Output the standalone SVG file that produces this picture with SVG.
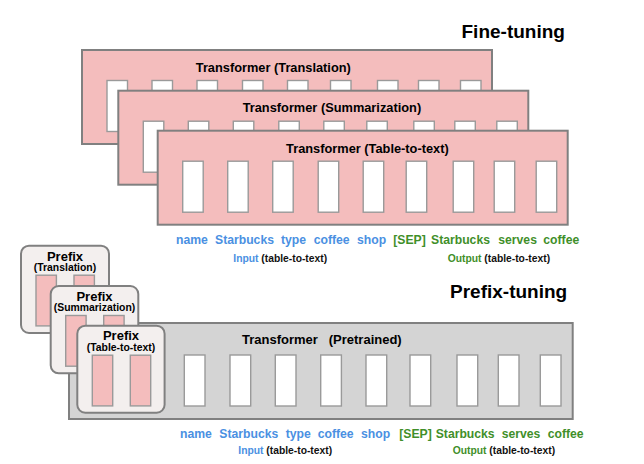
<svg xmlns="http://www.w3.org/2000/svg" width="644" height="464" viewBox="0 0 644 464">
<style>
text { font-family: "Liberation Sans", Arial, sans-serif; font-weight: bold; }
.box { fill: #f4bdbd; stroke: #808080; stroke-width: 2; }
.gbox { fill: #d4d4d4; stroke: #808080; stroke-width: 2; }
.pbox { fill: #f3efee; stroke: #808080; stroke-width: 2; }
.tok { fill: #ffffff; stroke: #9a9a9a; stroke-width: 1.4; }
.ptok { fill: #f4bdbd; stroke: #9a9a9a; stroke-width: 1.4; }
.ttl { font-size: 12.8px; fill: #000; text-anchor: middle; }
.head { font-size: 19px; fill: #000; }
.w { font-size: 12.2px; }
.in { fill: #4a90e2; }
.out { fill: #3f8f2a; }
.sub { font-size: 10.3px; fill: #111; }
.pt { font-size: 13px; fill: #000; text-anchor: middle; }
.ps { font-size: 10.4px; fill: #000; text-anchor: middle; }
</style>
<defs>
<g id="tokens">
<rect class="tok" x="25" y="30.5" width="20.5" height="51"/>
<rect class="tok" x="70" y="30.5" width="20.5" height="51"/>
<rect class="tok" x="115" y="30.5" width="20.5" height="51"/>
<rect class="tok" x="160.5" y="30.5" width="20.5" height="51"/>
<rect class="tok" x="205.5" y="30.5" width="20.5" height="51"/>
<rect class="tok" x="248.5" y="30.5" width="20.5" height="51"/>
<rect class="tok" x="295.5" y="30.5" width="20.5" height="51"/>
<rect class="tok" x="336.5" y="30.5" width="20.5" height="51"/>
<rect class="tok" x="378.5" y="30.5" width="20.5" height="51"/>
</g>
<g id="ptokens">
<rect class="ptok" x="15" y="29.5" width="20.4" height="50.7"/>
<rect class="ptok" x="53" y="29.5" width="20.4" height="50.7"/>
</g>
</defs>

<text class="head" x="461.5" y="38">Fine-tuning</text>

<g id="ft-translation">
<rect class="box" x="82" y="50" width="410" height="94"/>
<use href="#tokens" transform="translate(82,50)"/>
<text class="ttl" x="273.3" y="71.7">Transformer (Translation)</text>
</g>
<g id="ft-summarization">
<rect class="box" x="118.3" y="90.7" width="410" height="94"/>
<use href="#tokens" transform="translate(118.3,90.7)"/>
<text class="ttl" x="331.9" y="112.4">Transformer (Summarization)</text>
</g>
<g id="ft-table">
<rect class="box" x="157.7" y="130.7" width="410" height="94"/>
<use href="#tokens" transform="translate(157.7,130.7)"/>
<text class="ttl" x="367.4" y="152.5">Transformer (Table-to-text)</text>
</g>

<g id="ft-words" class="w">
<text class="w in" x="176" y="244">name</text>
<text class="w in" x="215" y="244">Starbucks</text>
<text class="w in" x="281" y="244">type</text>
<text class="w in" x="313.7" y="244">coffee</text>
<text class="w in" x="357" y="244">shop</text>
<text class="w out" x="393.3" y="244">[SEP]</text>
<text class="w out" x="431" y="244">Starbucks</text>
<text class="w out" x="498.3" y="244">serves</text>
<text class="w out" x="543.3" y="244">coffee</text>
<text class="sub" x="233.3" y="262"><tspan class="in">Input</tspan> (table-to-text)</text>
<text class="sub" x="447.7" y="262"><tspan class="out">Output</tspan> (table-to-text)</text>
</g>

<text class="head" x="450" y="298">Prefix-tuning</text>

<g id="pt-transformer">
<rect class="gbox" x="69" y="323" width="503.7" height="96"/>
<rect class="tok" x="184.3" y="355" width="20.7" height="51"/>
<rect class="tok" x="230" y="355" width="20.7" height="51"/>
<rect class="tok" x="275.3" y="355" width="20.7" height="51"/>
<rect class="tok" x="320.7" y="355" width="20.7" height="51"/>
<rect class="tok" x="366" y="355" width="20.7" height="51"/>
<rect class="tok" x="410" y="355" width="20.7" height="51"/>
<rect class="tok" x="457" y="355" width="20.7" height="51"/>
<rect class="tok" x="498.3" y="355" width="20.7" height="51"/>
<rect class="tok" x="540.3" y="355" width="20.7" height="51"/>
<text x="242" y="343.5" style="font-size:13px">Transformer</text>
<text x="401.7" y="343.5" style="font-size:13px;text-anchor:end">(Pretrained)</text>
</g>

<g id="prefix-translation">
<rect class="pbox" x="21" y="245.7" width="88" height="87.3" rx="8"/>
<use href="#ptokens" transform="translate(21,245.7)"/>
<text class="pt" x="65" y="260.5">Prefix</text>
<text class="ps" x="65" y="271.3">(Translation)</text>
</g>
<g id="prefix-summarization">
<rect class="pbox" x="50.7" y="286" width="87.6" height="87.3" rx="8"/>
<use href="#ptokens" transform="translate(50.7,286)"/>
<text class="pt" x="94.5" y="300.6">Prefix</text>
<text class="ps" x="94.5" y="311.4">(Summarization)</text>
</g>
<g id="prefix-table">
<rect class="pbox" x="77.3" y="325.7" width="87.3" height="87" rx="8"/>
<use href="#ptokens" transform="translate(77.3,325.7)"/>
<text class="pt" x="121" y="340.2">Prefix</text>
<text class="ps" x="121" y="350.9">(Table-to-text)</text>
</g>

<g id="pt-words">
<text class="w in" x="180" y="437.5">name</text>
<text class="w in" x="219.3" y="437.5">Starbucks</text>
<text class="w in" x="285.7" y="437.5">type</text>
<text class="w in" x="317.7" y="437.5">coffee</text>
<text class="w in" x="361" y="437.5">shop</text>
<text class="w out" x="399.3" y="437.5">[SEP]</text>
<text class="w out" x="435.7" y="437.5">Starbucks</text>
<text class="w out" x="501.7" y="437.5">serves</text>
<text class="w out" x="547.7" y="437.5">coffee</text>
<text class="sub" x="238.3" y="453.5"><tspan class="in">Input</tspan> (table-to-text)</text>
<text class="sub" x="452.7" y="453.5"><tspan class="out">Output</tspan> (table-to-text)</text>
</g>
</svg>
